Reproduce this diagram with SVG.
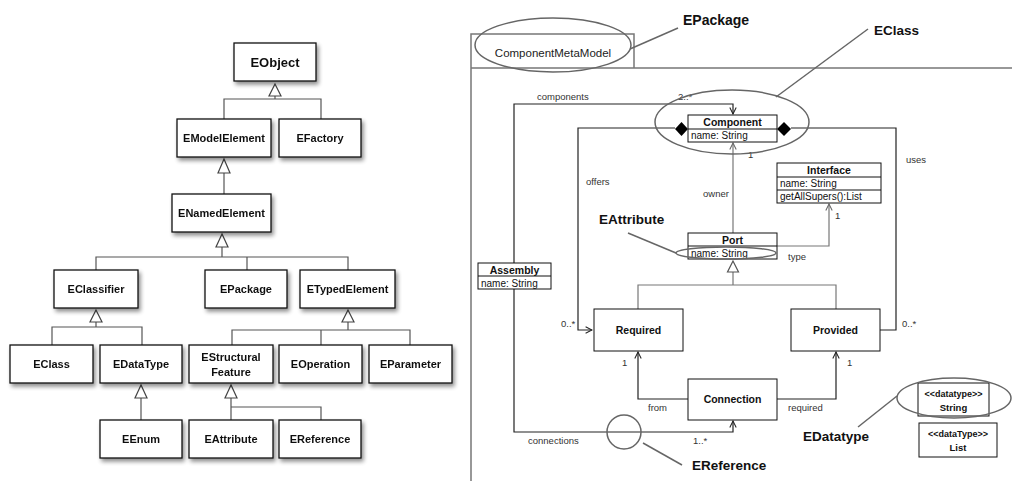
<svg xmlns="http://www.w3.org/2000/svg" width="1012" height="481" viewBox="0 0 1012 481">
<defs>
<filter id="sh" x="-20%" y="-20%" width="150%" height="160%">
<feGaussianBlur in="SourceAlpha" stdDeviation="2"/>
<feOffset dx="2" dy="3" result="b"/>
<feComponentTransfer><feFuncA type="linear" slope="0.45"/></feComponentTransfer>
<feMerge><feMergeNode/><feMergeNode in="SourceGraphic"/></feMerge>
</filter>
<marker id="open" viewBox="0 0 10 10" refX="9" refY="5" markerWidth="8" markerHeight="8" orient="auto" markerUnits="userSpaceOnUse">
<path d="M1,1 L9,5 L1,9" fill="none" stroke="#222" stroke-width="1.3"/>
</marker>
<marker id="openg" viewBox="0 0 10 10" refX="9" refY="5" markerWidth="8" markerHeight="8" orient="auto" markerUnits="userSpaceOnUse">
<path d="M1,1 L9,5 L1,9" fill="none" stroke="#666" stroke-width="1.3"/>
</marker>
</defs>
<style>
.lb rect{fill:#fff;stroke:#111;stroke-width:1.3}
.lt{font-family:"Liberation Sans",Arial,sans-serif;font-weight:bold;font-size:11px;fill:#111;text-anchor:middle}
.ll{fill:none;stroke:#555;stroke-width:1.2}
.tri{fill:#fff;stroke:#444;stroke-width:1.2}
.rb{fill:#fff;stroke:#111;stroke-width:1}
.rd{stroke:#111;stroke-width:1;fill:none}
.rh{font-family:"Liberation Sans",Arial,sans-serif;font-weight:bold;font-size:10.5px;fill:#111;text-anchor:middle}
.ra{font-family:"Liberation Sans",Arial,sans-serif;font-size:10px;fill:#111}
.rl{font-family:"Liberation Sans",Arial,sans-serif;font-size:9.5px;fill:#333}
.cb{fill:none;stroke:#222;stroke-width:1.2}
.cg{fill:none;stroke:#777;stroke-width:1.2}
.call{fill:none;stroke:#666;stroke-width:1.5}
.ct{font-family:"Liberation Sans",Arial,sans-serif;font-weight:bold;font-size:13.5px;fill:#111}
.pk{fill:none;stroke:#777;stroke-width:1.5}
</style>

<!-- left: hierarchy connectors -->
<g id="left-connectors">
<path class="ll" d="M275,96 V99 M224,119 V99 H321 V119"/>
<polygon class="tri" points="275,84 269,96 281,96"/>
<path class="ll" d="M224,173 V194"/>
<polygon class="tri" points="224,159 218,173 230,173"/>
<path class="ll" d="M222,247 V257 M96,270 V257 H348 V270 M247,257 V270"/>
<polygon class="tri" points="222,234 216,247 228,247"/>
<path class="ll" d="M96,322 V327 M52,345 V327 H142 V345"/>
<polygon class="tri" points="96,310 90,322 102,322"/>
<path class="ll" d="M348,322 V330 M232,345 V330 H410 V345 M321,330 V345"/>
<polygon class="tri" points="348,310 342,322 354,322"/>
<path class="ll" d="M141,398 V420"/>
<polygon class="tri" points="141,385 135,398 147,398"/>
<path class="ll" d="M231,398 V420 M231,407 H321 V420"/>
<polygon class="tri" points="231,385 225,398 237,398"/>
</g>

<g class="lb" filter="url(#sh)">
<g id="EObject"><rect x="234" y="43" width="82" height="38"/><text class="lt" x="275" y="67" style="font-size:13px">EObject</text></g>
<g id="EModelElement"><rect x="177" y="119" width="94" height="38"/><text class="lt" x="224" y="142">EModelElement</text></g>
<g id="EFactory"><rect x="279" y="119" width="82" height="38"/><text class="lt" x="320" y="142">EFactory</text></g>
<g id="ENamedElement"><rect x="172" y="194" width="99" height="38"/><text class="lt" x="221.5" y="217">ENamedElement</text></g>
<g id="EClassifier"><rect x="54" y="270" width="84" height="38"/><text class="lt" x="96" y="293">EClassifier</text></g>
<g id="EPackage"><rect x="205" y="270" width="82" height="38"/><text class="lt" x="246" y="293">EPackage</text></g>
<g id="ETypedElement"><rect x="300" y="270" width="95" height="38"/><text class="lt" x="347.5" y="293">ETypedElement</text></g>
<g id="EClass"><rect x="10" y="345" width="83" height="38"/><text class="lt" x="51.5" y="368">EClass</text></g>
<g id="EDataType"><rect x="100" y="345" width="82" height="38"/><text class="lt" x="141" y="368">EDataType</text></g>
<g id="EStructuralFeature"><rect x="189" y="345" width="84" height="38"/><text class="lt" x="231" y="361">EStructural</text><text class="lt" x="231" y="376">Feature</text></g>
<g id="EOperation"><rect x="279" y="345" width="83" height="38"/><text class="lt" x="320.5" y="368">EOperation</text></g>
<g id="EParameter"><rect x="369" y="345" width="83" height="38"/><text class="lt" x="410.5" y="368">EParameter</text></g>
<g id="EEnum"><rect x="100" y="420" width="82" height="38"/><text class="lt" x="141" y="443">EEnum</text></g>
<g id="EAttribute"><rect x="189" y="420" width="84" height="38"/><text class="lt" x="231" y="443">EAttribute</text></g>
<g id="EReference"><rect x="279" y="420" width="82" height="38"/><text class="lt" x="320" y="443">EReference</text></g>
</g>

<!-- right: package -->
<g id="ComponentMetaModel">
<path class="pk" d="M471,481 V34 H634 V68 H1012 M471,68 H634"/>
<text x="553" y="57" style="font-family:'Liberation Sans',Arial,sans-serif;font-size:11.5px;fill:#222;text-anchor:middle">ComponentMetaModel</text>
</g>

<g id="right-connectors">
<path class="cb" d="M675,128 H578 V330 H592" marker-end="url(#open)"/>
<path class="cb" d="M791,128 H896 V330 H880"/>
<path class="cb" d="M514,263 V104 H733 V114" marker-end="url(#open)"/>
<path class="cb" d="M514,289 V432 H733 V421" marker-end="url(#open)"/>
<path class="cg" d="M733,233 V143" marker-end="url(#openg)"/>
<path class="cg" d="M777,246 H829 V204" marker-end="url(#openg)"/>
<path class="cg" d="M733,272 V285 M638,309 V285 H836 V309"/>
<polygon points="733,261 727.5,272 738.5,272" fill="#fff" stroke="#555" stroke-width="1.2"/>
<path class="cb" d="M688,399 H638 V352" marker-end="url(#open)"/>
<path class="cb" d="M777,399 H836 V352" marker-end="url(#open)"/>
<polygon points="675,129 681.5,122 688,129 681.5,136" fill="#000"/>
<polygon points="777,129 784,122 791,129 784,136" fill="#000"/>
<text class="rl" x="537" y="100">components</text>
<text class="rl" x="678" y="100">2..*</text>
<text class="rl" x="586" y="185">offers</text>
<text class="rl" x="906" y="163">uses</text>
<text class="rl" x="561" y="327">0..*</text>
<text class="rl" x="902" y="327">0..*</text>
<text class="rl" x="748" y="158">1</text>
<text class="rl" x="703" y="197">owner</text>
<text class="rl" x="835" y="219">1</text>
<text class="rl" x="788" y="260">type</text>
<text class="rl" x="622" y="366">1</text>
<text class="rl" x="648" y="411">from</text>
<text class="rl" x="847" y="366">1</text>
<text class="rl" x="788" y="411">required</text>
<text class="rl" x="528" y="444">connections</text>
<text class="rl" x="693" y="444">1..*</text>
</g>

<g id="Component"><rect class="rb" x="688" y="115" width="89" height="27"/><path class="rd" d="M688,129 H777"/><text class="rh" x="732.5" y="126">Component</text><text class="ra" x="691" y="139">name: String</text></g>
<g id="Assembly"><rect class="rb" x="478" y="263" width="73" height="26"/><path class="rd" d="M478,276 H551"/><text class="rh" x="514.5" y="273.5">Assembly</text><text class="ra" x="481" y="286.5">name: String</text></g>
<g id="Interface"><rect class="rb" x="777" y="163" width="104" height="40"/><path class="rd" d="M777,177 H881 M777,190 H881"/><text class="rh" x="829" y="174">Interface</text><text class="ra" x="780" y="187">name: String</text><text class="ra" x="780" y="200">getAllSupers():List</text></g>
<g id="Port"><rect class="rb" x="688" y="233" width="89" height="26"/><path class="rd" d="M688,246 H777"/><text class="rh" x="732.5" y="243.5">Port</text><text class="ra" x="691" y="256.5">name: String</text></g>
<g id="Required"><rect class="rb" x="594" y="309" width="89" height="42"/><text class="rh" x="638.5" y="334">Required</text></g>
<g id="Provided"><rect class="rb" x="791" y="309" width="89" height="42"/><text class="rh" x="835.5" y="334">Provided</text></g>
<g id="Connection"><rect class="rb" x="688" y="379" width="89" height="41"/><text class="rh" x="732.5" y="403">Connection</text></g>
<g id="String"><rect class="rb" x="918" y="383" width="71" height="33"/><text class="rh" x="953.5" y="397" style="font-size:9px">&lt;&lt;datatype&gt;&gt;</text><text class="rh" x="953.5" y="411" style="font-size:9.5px">String</text></g>
<g id="List"><rect class="rb" x="919" y="423" width="78" height="34"/><text class="rh" x="958" y="437" style="font-size:9px">&lt;&lt;dataType&gt;&gt;</text><text class="rh" x="958" y="451" style="font-size:9.5px">List</text></g>

<!-- callouts -->
<g id="callouts">
<ellipse class="call" cx="553" cy="45" rx="78" ry="27"/>
<path class="call" d="M630,49 L678,28"/>
<text class="ct" x="683" y="25" style="font-size:14px">EPackage</text>
<ellipse class="call" cx="732" cy="122" rx="77" ry="32"/>
<path class="call" d="M776,97 L868,29"/>
<text class="ct" x="874" y="35">EClass</text>
<ellipse class="call" cx="726" cy="253" rx="50" ry="6"/>
<path class="call" d="M628,233 L676,253"/>
<text class="ct" x="599" y="224">EAttribute</text>
<circle class="call" cx="624" cy="432" r="17"/>
<path class="call" d="M643,443 L682,465"/>
<text class="ct" x="692" y="470">EReference</text>
<ellipse class="call" cx="954" cy="398" rx="57" ry="20"/>
<path class="call" d="M858,427 L897,396"/>
<text class="ct" x="803" y="441">EDatatype</text>
</g>
</svg>
